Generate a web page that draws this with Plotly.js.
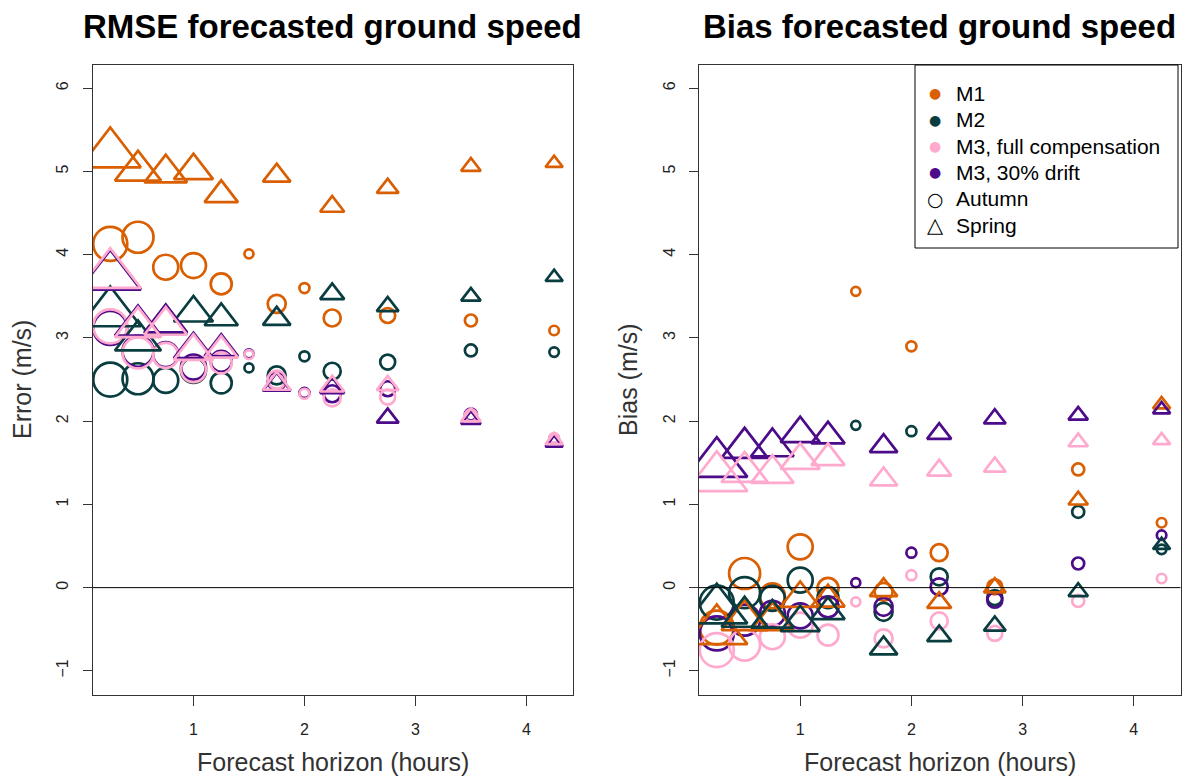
<!DOCTYPE html>
<html>
<head>
<meta charset="utf-8">
<script src="https://cdn.plot.ly/plotly-3.0.1.min.js"></script>
<style>html,body{margin:0;padding:0;background:#fff;}#chart{width:1186px;height:776px;}</style>
</head>
<body>
<div id="chart"></div>
<script>
// ---------------- data ----------------
const methods = ["M1", "M2", "M3, full compensation", "M3, 30% drift"];
const seasons = ["Autumn", "Spring"];
const horizonsAutumn = [0.25, 0.5, 0.75, 1, 1.25, 1.5, 1.75, 2, 2.25, 2.75, 3.5, 4.25];
const horizonsSpring = [0.25, 0.5, 0.75, 1, 1.25, 1.75, 2.25, 2.75, 3.5, 4.25];

// RMSE (m/s)
const rmseAutumnM1 = [4.13, 4.21, 3.85, 3.87, 3.65, 4.01, 3.41, 3.60, 3.24, 3.27, 3.21, 3.09];
const rmseAutumnM2 = [2.50, 2.51, 2.49, 2.61, 2.46, 2.64, 2.55, 2.78, 2.60, 2.71, 2.85, 2.83];
const rmseAutumnM3full = [3.14, 2.82, 2.79, 2.62, 2.70, 2.80, 2.50, 2.33, 2.28, 2.29, 2.07, 1.80];
const rmseAutumnM3drift = [3.12, 2.84, 2.80, 2.65, 2.72, 2.81, 2.48, 2.34, 2.33, 2.39, 2.08, 1.79];
const rmseSpringM1 = [5.21, 5.01, 4.98, 5.01, 4.72, 4.95, 4.58, 4.80, 5.06, 5.10];
const rmseSpringM2 = [3.30, 2.97, 3.17, 3.30, 3.24, 3.23, 3.53, 3.38, 3.50, 3.73];
const rmseSpringM3full = [3.76, 3.13, 3.15, 2.84, 2.85, 2.45, 2.42, 2.43, 2.05, 1.77];
const rmseSpringM3drift = [3.74, 3.15, 3.18, 2.86, 2.87, 2.44, 2.40, 2.04, 2.02, 1.74];

// Bias (m/s)
const biasAutumnM1 = [-0.48, 0.17, -0.10, 0.49, -0.01, 3.56, -0.05, 2.90, 0.42, 0.01, 1.42, 0.78];
const biasAutumnM2 = [-0.18, -0.06, -0.13, 0.09, -0.12, 1.95, -0.29, 1.88, 0.13, -0.12, 0.91, 0.46];
const biasAutumnM3full = [-0.75, -0.69, -0.59, -0.45, -0.57, -0.17, -0.61, 0.15, -0.40, -0.55, -0.16, 0.11];
const biasAutumnM3drift = [-0.55, -0.39, -0.31, -0.34, -0.23, 0.06, -0.23, 0.42, 0.01, -0.15, 0.29, 0.63];
const biasSpringM1 = [-0.52, -0.39, -0.40, -0.13, -0.14, -0.03, -0.18, 0.00, 1.05, 2.20];
const biasSpringM2 = [-0.27, -0.35, -0.37, -0.42, -0.29, -0.73, -0.58, -0.46, -0.05, 0.51];
const biasSpringM3full = [1.32, 1.39, 1.37, 1.53, 1.56, 1.30, 1.41, 1.45, 1.75, 1.77];
const biasSpringM3drift = [1.49, 1.68, 1.69, 1.85, 1.82, 1.70, 1.85, 2.03, 2.07, 2.14];

const xTickVals = [1, 2, 3, 4];
const yTickVals = [-1, 0, 1, 2, 3, 4, 5, 6];

// ---------------- styles ----------------
const methodColors = ["#D95F02", "#0A3D40", "#FFA9CF", "#4C0B88"];
const drawOrder = [0, 1, 3, 2];
const autumnSizes = [34, 31, 25, 25, 21, 9, 18, 10, 17, 15, 12, 9.5];
const springSizes = [53, 40, 37, 34, 29, 24, 21, 19, 17, 15];
const LW = 2.7;
const FONT = "Liberation Sans, Arial, sans-serif";

const rmseAutumn = [rmseAutumnM1, rmseAutumnM2, rmseAutumnM3full, rmseAutumnM3drift];
const rmseSpring = [rmseSpringM1, rmseSpringM2, rmseSpringM3full, rmseSpringM3drift];
const biasAutumn = [biasAutumnM1, biasAutumnM2, biasAutumnM3full, biasAutumnM3drift];
const biasSpring = [biasSpringM1, biasSpringM2, biasSpringM3full, biasSpringM3drift];

const traces = [];
function addPanel(autumn, spring, xa, ya) {
  drawOrder.forEach(i => {
    traces.push({
      type: "scatter", mode: "markers", x: horizonsAutumn, y: autumn[i],
      xaxis: xa, yaxis: ya, showlegend: false, cliponaxis: true,
      name: methods[i] + " " + seasons[0],
      marker: {symbol: "circle-open", size: autumnSizes, opacity: 1, color: methodColors[i], line: {width: LW, color: methodColors[i]}}
    });
  });
  drawOrder.forEach(i => {
    traces.push({
      type: "scatter", mode: "markers", x: horizonsSpring, y: spring[i],
      xaxis: xa, yaxis: ya, showlegend: false, cliponaxis: true,
      name: methods[i] + " " + seasons[1],
      marker: {symbol: "triangle-up-open", size: springSizes, opacity: 1, color: methodColors[i], line: {width: LW, color: methodColors[i]}}
    });
  });
}
addPanel(rmseAutumn, rmseSpring, "x", "y");
addPanel(biasAutumn, biasSpring, "x2", "y2");

const W = 1186, H = 776;
const px = v => v / W, py = v => (H - v) / H;

function xAxis(domain, anchor) {
  return {
    domain: domain, anchor: anchor, range: [0.09, 4.42], tickvals: xTickVals,
    showgrid: false, zeroline: false, showline: true, mirror: true, linecolor: "#333", linewidth: 1,
    ticks: "outside", ticklen: 10, tickwidth: 1, tickcolor: "#333",
    tickfont: {family: FONT, size: 16, color: "#222"}, ticklabelstandoff: 10, fixedrange: true
  };
}
function yAxis(anchor) {
  return {
    domain: [py(695), py(65)], anchor: anchor, range: [-1.29, 6.28], tickvals: yTickVals,
    showgrid: false, zeroline: false, showline: true, mirror: true, linecolor: "#333", linewidth: 1,
    ticks: "outside", ticklen: 9, tickwidth: 1, tickcolor: "#333", tickangle: -90,
    tickfont: {family: FONT, size: 16, color: "#222"}, ticklabelstandoff: 8, fixedrange: true
  };
}

// ---- legend (drawn as box + text keys) ----
const legendLeft = 915, legendRight = 1178, legendTop = 65, legendBottom = 248;
const legendRow0 = 93.3, legendRowStep = 26.35;
const legendKeys = [
  {glyph: "●", color: methodColors[0], label: methods[0], size: 14},
  {glyph: "●", color: methodColors[1], label: methods[1], size: 14},
  {glyph: "●", color: methodColors[2], label: methods[2], size: 14},
  {glyph: "●", color: methodColors[3], label: methods[3], size: 14},
  {glyph: "○", color: "#000", label: seasons[0], size: 19},
  {glyph: "△", color: "#000", label: seasons[1], size: 21}
];
const legendAnn = [];
legendKeys.forEach((k, i) => {
  const yc = legendRow0 + i * legendRowStep;
  legendAnn.push({text: k.glyph, xref: "paper", yref: "paper", x: px(935), y: py(yc), xanchor: "center", yanchor: "middle",
    showarrow: false, font: {family: "DejaVu Sans, sans-serif", size: k.size, color: k.color}});
  legendAnn.push({text: k.label, xref: "paper", yref: "paper", x: px(954), y: py(yc), xanchor: "left", yanchor: "middle",
    showarrow: false, font: {family: FONT, size: 21, color: "#000"}});
});

const layout = {
  width: W, height: H, margin: {l: 0, r: 0, t: 0, b: 0},
  paper_bgcolor: "#fff", plot_bgcolor: "#fff",
  showlegend: false,
  xaxis: xAxis([px(92.5), px(573)], "y"),
  yaxis: yAxis("x"),
  xaxis2: xAxis([px(699), px(1180.5)], "y2"),
  yaxis2: yAxis("x2"),
  shapes: [
    {type: "line", xref: "x domain", yref: "y", x0: 0, x1: 1, y0: 0, y1: 0, line: {color: "#000", width: 1}, layer: "above"},
    {type: "line", xref: "x2 domain", yref: "y2", x0: 0, x1: 1, y0: 0, y1: 0, line: {color: "#000", width: 1}, layer: "above"},
    {type: "rect", xref: "paper", yref: "paper", x0: px(legendLeft), x1: px(legendRight), y0: py(legendBottom), y1: py(legendTop),
      line: {color: "#000", width: 1}, fillcolor: "#fff", layer: "above"}
  ],
  annotations: [
    {text: "<b>RMSE forecasted ground speed</b>", xref: "paper", yref: "paper", x: px(332.75), y: py(27), xanchor: "center", yanchor: "middle", showarrow: false, font: {family: FONT, size: 33, color: "#000"}},
    {text: "<b>Bias forecasted ground speed</b>", xref: "paper", yref: "paper", x: px(939.75), y: py(27), xanchor: "center", yanchor: "middle", showarrow: false, font: {family: FONT, size: 33, color: "#000"}},
    {text: "Forecast horizon (hours)", xref: "paper", yref: "paper", x: px(332.75), y: py(762), xanchor: "center", yanchor: "middle", showarrow: false, font: {family: FONT, size: 25, color: "#333"}},
    {text: "Forecast horizon (hours)", xref: "paper", yref: "paper", x: px(939.75), y: py(762), xanchor: "center", yanchor: "middle", showarrow: false, font: {family: FONT, size: 25, color: "#333"}},
    {text: "Error (m/s)", xref: "paper", yref: "paper", x: px(22), y: py(380), xanchor: "center", yanchor: "middle", textangle: -90, showarrow: false, font: {family: FONT, size: 25, color: "#333"}},
    {text: "Bias (m/s)", xref: "paper", yref: "paper", x: px(628), y: py(380), xanchor: "center", yanchor: "middle", textangle: -90, showarrow: false, font: {family: FONT, size: 25, color: "#333"}}
  ].concat(legendAnn)
};

Plotly.newPlot("chart", traces, layout, {displayModeBar: false, staticPlot: true});
</script>
</body>
</html>
